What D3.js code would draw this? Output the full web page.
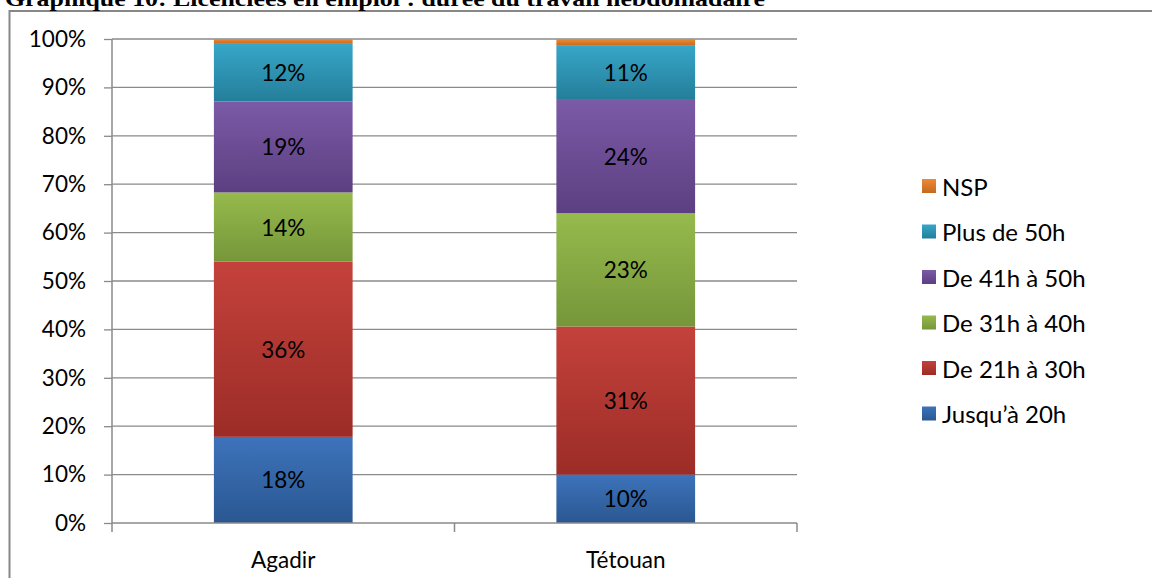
<!DOCTYPE html>
<html><head><meta charset="utf-8">
<script src="https://cdn.jsdelivr.net/npm/d3@7"></script>
<style>body{margin:0;background:#fff;overflow:hidden}</style>
</head><body>
<svg id="c" width="1152" height="578"></svg>
<script>
const titleText = "Graphique 10:  Licenciées en emploi : durée du travail hebdomadaire";
const categories = ["Agadir", "Tétouan"];
const seriesNames = ["Jusqu’à 20h", "De 21h à 30h", "De 31h à 40h", "De 41h à 50h", "Plus de 50h", "NSP"];
const jusqua20 = [17.8, 10.0];
const de21a30 = [36.2, 30.6];
const de31a40 = [14.3, 23.4];
const de41a50 = [18.8, 23.6];
const plus50 = [11.9, 11.0];
const nsp = [1.0, 1.4];
const showLabel = [true, true, true, true, true, false];
const yTicks = [0, 10, 20, 30, 40, 50, 60, 70, 80, 90, 100];

const seriesValues = [jusqua20, de21a30, de31a40, de41a50, plus50, nsp];
const colorsTop = ["#3d73bb", "#c4423b", "#96ba4c", "#7b5aa7", "#37a6c8", "#ee8a33"];
const colorsBot = ["#2a5791", "#9c2c27", "#76963a", "#5c3f81", "#247e9a", "#c4691f"];

const svg = d3.select("#c");
const font = "Lato, 'Open Sans', sans-serif";
const fs = 22.5;

// frame
svg.append("rect").attr("x", 9.5).attr("y", 11).attr("width", 1160).attr("height", 600)
  .attr("fill", "none").attr("stroke", "#878787").attr("stroke-width", 2);

// title
svg.append("text").attr("x", 5).attr("y", 6)
  .attr("font-family", "'Liberation Serif', 'Times New Roman', serif")
  .attr("font-weight", "bold").attr("font-size", 21)
  .attr("textLength", 760).attr("lengthAdjust", "spacingAndGlyphs")
  .text(titleText);

const x = d3.scaleBand().domain(categories).range([112, 797]).paddingInner(0.595).paddingOuter(0.2975);
const y = d3.scaleLinear().domain([0, 100]).range([523, 39]);

const defs = svg.append("defs");
seriesNames.forEach((s, i) => {
  const g = defs.append("linearGradient").attr("id", "g" + i)
    .attr("x1", 0).attr("y1", 0).attr("x2", 0).attr("y2", 1);
  g.append("stop").attr("offset", "0%").attr("stop-color", colorsTop[i]);
  g.append("stop").attr("offset", "100%").attr("stop-color", colorsBot[i]);
});

// gridlines
svg.append("g").selectAll("line").data(yTicks.filter(d => d > 0)).join("line")
  .attr("x1", 112).attr("x2", 797)
  .attr("y1", d => y(d)).attr("y2", d => y(d))
  .attr("stroke", "#8a8a8a").attr("stroke-width", 1.3);

// bars
const stackData = categories.map((c, ci) => {
  const o = { cat: c };
  seriesNames.forEach((s, si) => o[s] = seriesValues[si][ci]);
  return o;
});
const stacked = d3.stack().keys(seriesNames)(stackData);
const barG = svg.append("g");
stacked.forEach((layer, si) => {
  barG.append("g").selectAll("rect").data(layer).join("rect")
    .attr("x", d => x(d.data.cat))
    .attr("width", x.bandwidth())
    .attr("y", d => y(d[1]))
    .attr("height", d => y(d[0]) - y(d[1]))
    .attr("fill", "url(#g" + si + ")");
  if (showLabel[si]) {
    barG.append("g").selectAll("text").data(layer).join("text")
      .attr("x", d => x(d.data.cat) + x.bandwidth() / 2)
      .attr("y", d => (y(d[0]) + y(d[1])) / 2)
      .attr("text-anchor", "middle").attr("dominant-baseline", "central")
      .attr("font-family", font).attr("font-size", fs).attr("fill", "#000")
      .text(d => Math.round(d[1] - d[0]) + "%");
  }
});

// y axis
const yAxis = d3.axisLeft(y).tickValues(yTicks).tickFormat(d => d + "%").tickSize(8).tickPadding(18);
const ya = svg.append("g").attr("transform", "translate(112,0)").call(yAxis);
ya.select(".domain").attr("stroke", "#8a8a8a").attr("stroke-width", 1.5).attr("d", "M0,39V523");
ya.selectAll(".tick line").attr("stroke", "#8a8a8a").attr("stroke-width", 1.3);
ya.selectAll(".tick text").attr("font-family", font).attr("font-size", fs).attr("fill", "#000");

// x axis
const xAxis = d3.axisBottom(x).tickSize(0).tickPadding(29);
const xa = svg.append("g").attr("transform", "translate(0,523)").call(xAxis);
xa.select(".domain").attr("stroke", "#8a8a8a").attr("stroke-width", 1.5).attr("d", "M112,0H797");
xa.selectAll(".tick text").attr("font-family", font).attr("font-size", fs).attr("fill", "#000");
// category boundary ticks
const bounds = [112, (x(categories[0]) + x.bandwidth() + x(categories[1])) / 2, 797];
xa.append("g").selectAll("line").data(bounds).join("line")
  .attr("x1", d => d).attr("x2", d => d).attr("y1", 0).attr("y2", 9)
  .attr("stroke", "#8a8a8a").attr("stroke-width", 1.5);

// legend
const legendOrder = seriesNames.map((s, i) => i).reverse();
const lg = svg.append("g");
legendOrder.forEach((si, k) => {
  const cy = 186 + k * 45.5;
  lg.append("rect").attr("x", 922).attr("y", cy - 7).attr("width", 14).attr("height", 14)
    .attr("fill", "url(#g" + si + ")");
  lg.append("text").attr("x", 942).attr("y", cy).attr("dominant-baseline", "central")
    .attr("font-family", font).attr("font-size", 24).attr("fill", "#000").text(seriesNames[si]);
});
</script>
</body></html>
